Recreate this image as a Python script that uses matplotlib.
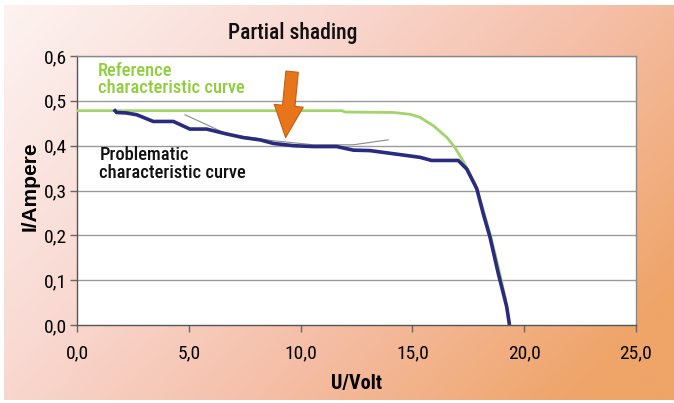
import numpy as np
import matplotlib
matplotlib.use("Agg")
import matplotlib.pyplot as plt
from matplotlib.colors import LinearSegmentedColormap
import logging
logging.getLogger('matplotlib.font_manager').setLevel(logging.ERROR)

NARROW = ['Liberation Sans Narrow', 'Arial Narrow', 'Roboto Condensed', 'Archivo Narrow', 'DejaVu Sans']
plt.rcParams['font.family'] = NARROW

# ---- data ----
green_u = [0.0, 11.85, 12.0, 14.15, 14.9, 15.35, 15.95, 16.55, 16.9, 17.3, 17.8, 18.17, 18.47, 18.84, 19.14, 19.33]
green_i = [0.478, 0.478, 0.475, 0.474, 0.470, 0.463, 0.444, 0.418, 0.396, 0.363, 0.315, 0.256, 0.204, 0.130, 0.063, 0.004]

blue_u = [1.70, 1.77, 2.20, 2.67, 3.41, 4.31, 5.05, 5.80, 6.70, 7.44, 8.18, 8.78, 9.67, 10.57, 11.61,
          12.36, 13.10, 13.70, 14.45, 15.34, 15.86, 17.05, 17.43, 17.88, 18.17, 18.47, 18.84, 19.07, 19.22, 19.33]
blue_i = [0.478, 0.474, 0.473, 0.469, 0.454, 0.454, 0.437, 0.437, 0.426, 0.418, 0.413, 0.405, 0.400, 0.398, 0.398,
          0.390, 0.389, 0.385, 0.380, 0.374, 0.367, 0.367, 0.348, 0.304, 0.248, 0.196, 0.115, 0.070, 0.040, 0.004]

gray_u = [4.83, 6.70, 8.78, 10.57, 12.36, 13.92]
gray_i = [0.469, 0.426, 0.411, 0.402, 0.402, 0.413]

arrow_tail = (9.62, 0.565)
arrow_head = (9.33, 0.418)

x_ticks = [0, 5, 10, 15, 20, 25]
x_ticklabels = ['0,0', '5,0', '10,0', '15,0', '20,0', '25,0']
y_ticks = [0.0, 0.1, 0.2, 0.3, 0.4, 0.5, 0.6]
y_ticklabels = ['0,0', '0,1', '0,2', '0,3', '0,4', '0,5', '0,6']

title = 'Partial shading'
xlabel = 'U/Volt'
ylabel = 'I/Ampere'
ref_label = 'Reference\ncharacteristic curve'
prob_label = 'Problematic\ncharacteristic curve'

# ---- figure ----
W, H = 674, 403
fig = plt.figure(figsize=(W / 100, H / 100), dpi=100)
fig.patch.set_facecolor('white')

# gradient background
bg = fig.add_axes([4 / W, 3 / H, 670 / W, 395 / H])
bg.set_axis_off()
ny, nx = 200, 340
yy, xx = np.mgrid[0:1:ny * 1j, 0:1:nx * 1j]
t = np.clip(0.72 * xx + 0.38 * yy, 0, 1)
cmap = LinearSegmentedColormap.from_list('bg', [
    (0.0, '#fdf3f1'),
    (0.35, '#f9d9d2'),
    (0.65, '#f5bfa8'),
    (1.0, '#efa468'),
])
bg.imshow(t, cmap=cmap, aspect='auto', origin='upper', extent=[0, 1, 0, 1], vmin=0, vmax=1)
bg.set_xlim(0, 1)
bg.set_ylim(0, 1)

ax = fig.add_axes([77 / W, (H - 325) / H, (636 - 77) / W, (325 - 56) / H])
ax.set_facecolor('white')
ax.set_xlim(0, 25)
ax.set_ylim(0, 0.6)

for y in y_ticks[1:]:
    ax.axhline(y, color='#9a9a9a', lw=1.0, zorder=1)

ax.plot(green_u, green_i, color='#a3d46c', lw=2.0, zorder=3, solid_joinstyle='round')
ax.plot(gray_u, gray_i, color='#8a8a8a', lw=0.8, zorder=3)
ax.plot(blue_u, blue_i, color='#2a2a80', lw=2.6, zorder=4, solid_joinstyle='round')

ax.annotate('', xy=arrow_head, xytext=arrow_tail,
            arrowprops=dict(arrowstyle='simple,head_length=1.15,head_width=1.05,tail_width=0.45',
                            fc='#e8741c', ec='#c45f10', lw=0.8, mutation_scale=20,
                            shrinkA=0, shrinkB=0), zorder=5)

ax.set_xticks(x_ticks)
ax.set_xticklabels(x_ticklabels)
ax.set_yticks(y_ticks)
ax.set_yticklabels(y_ticklabels)
ax.tick_params(axis='x', direction='out', length=5, width=1, color='#666666', pad=9, labelsize=14)
ax.tick_params(axis='y', direction='out', length=5, width=1, color='#666666', pad=2, labelsize=14)
for s in ['top', 'right']:
    ax.spines[s].set_color('#8a8a8a')
    ax.spines[s].set_linewidth(1.0)
for s in ['left', 'bottom']:
    ax.spines[s].set_color('#555555')
    ax.spines[s].set_linewidth(1.0)

ax.text(0.95, 0.547, ref_label, color='#8fcf3c', fontsize=13.3, fontweight='medium',
        ha='left', va='center', linespacing=0.95, zorder=6)
ax.text(1.0, 0.359, prob_label, color='#111111', fontsize=13.3, fontweight='medium',
        ha='left', va='center', linespacing=0.95, zorder=6)

fig.text(293 / W, 1 - 33 / H, title, fontsize=15.5, fontweight='medium', ha='center', va='center', color='#111111')
fig.text(357 / W, 1 - 383 / H, xlabel, fontsize=14.5, fontweight='bold', ha='center', va='center')
fig.text(30 / W, 1 - 186 / H, ylabel, fontsize=15, fontweight='bold', ha='center', va='center',
         rotation=90, family=['Liberation Sans', 'DejaVu Sans'])

fig.savefig('out.png', dpi=100)
